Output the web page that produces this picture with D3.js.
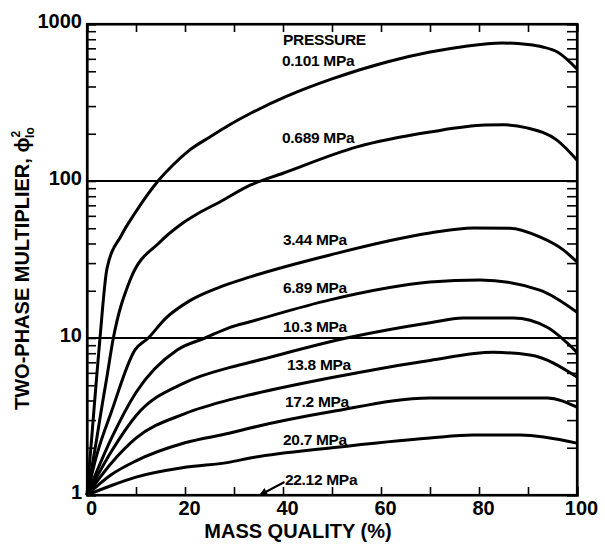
<!DOCTYPE html>
<html><head><meta charset="utf-8">
<script src="https://cdn.jsdelivr.net/npm/d3@7"></script>
<style>body{margin:0;background:#fff}svg{display:block}text{font-family:"Liberation Sans",Arial,sans-serif;font-weight:bold;fill:#000}</style>
</head><body>
<script>
// ---- data ----
const pressures = ["0.101 MPa","0.689 MPa","3.44 MPa","6.89 MPa","10.3 MPa","13.8 MPa","17.2 MPa","20.7 MPa"];
const x0101 = [0,1,2,2.65,4.1,7,9.8,14.5,17.5,21,25,29.2,33.3,40.8,50,61.2,70,77,84.7,90,93,96,100];
const v0101 = [1,2.4,5.8,10,27.9,45,62.5,100,126,158,190,229,269,347,447,573,663,720,757,740,714,663,517];
const x0689 = [0,1,2,3,4,5.3,8.8,14.9,19,23,27.1,33.3,40,55.1,70,81.2,85,89.8,95.9,100];
const v0689 = [1,1.5,2.3,3.6,5.5,9.7,23.4,40.9,52.5,63,73.5,94,112,165,205,227,228,218,182,136];
const x344 = [0,2,5,9.8,12.5,16,21,27.1,33.3,49.6,70,78.8,86.3,92.4,97.2,100];
const v344 = [1,1.8,3.4,8.4,10,13.3,17.3,21.1,24.5,33.8,46.6,50.2,50,44,36.4,30.5];
const x689 = [0,5,10,18.4,24.1,29.2,33.3,49.6,70,80.2,92.4,100];
const v689 = [1,2.3,4.5,8.4,10,11.7,12.7,17.5,22.7,23.4,20.2,14.6];
const x103 = [0,5,10,20,29.2,33.3,53.7,70,76.7,87,93.9,100];
const v103 = [1,1.9,3.2,5.2,6.5,7.0,10.1,12.5,13.4,13.4,11.7,8.1];
const x138 = [0,5,10,20,29.2,33.3,50,70,82.9,90.4,100];
const v138 = [1,1.6,2.3,3.3,4.05,4.35,5.6,7.2,8.1,7.8,5.65];
const x172 = [0,5,10,20,29.2,33.3,50,70,80,93.9,100];
const v172 = [1,1.35,1.65,2.15,2.48,2.67,3.4,4.15,4.15,4.15,3.63];
const x207 = [0,5,10,20,29.2,33.3,50,70,78.8,88.4,100];
const v207 = [1,1.15,1.3,1.5,1.62,1.72,2.0,2.31,2.41,2.41,2.14];
const seriesX = [x0101,x0689,x344,x689,x103,x138,x172,x207];
const seriesV = [v0101,v0689,v344,v689,v103,v138,v172,v207];
const labelX = [39.8,39.8,40,40,40,40.8,40.4,40];
const labelY = [540,175,39.1,19.4,10.9,6.25,3.64,2.08];
const criticalLabel = "22.12 MPa";
const criticalLabelPos = [40.4,1.158];
const arrowFrom = [40.3,1.21];
const arrowTo = [35.3,1.0];
const headingPos = [40,730];
const xTicks = [0,20,40,60,80,100];
const yTicks = [1,10,100,1000];

// ---- layout ----
const W=605,H=548;
const svg=d3.select("body").append("svg").attr("width",W).attr("height",H);
const x=d3.scaleLinear().domain([0,100]).range([87,577]);
const y=d3.scaleLog().domain([1,1000]).range([495,24]);

const minor=[];
for(let d=1;d<1000;d*=10) for(let k=1;k<10;k++) minor.push(d*k);
minor.push(1000);

// gridlines at 10 and 100
svg.append("g").selectAll("line").data([10,100]).join("line")
 .attr("x1",x(0)).attr("x2",x(100)).attr("y1",d=>y(d)).attr("y2",d=>y(d))
 .attr("stroke","#000").attr("stroke-width",2);

// axes
const gl=svg.append("g").attr("transform",`translate(${x(0)},0)`)
 .call(d3.axisLeft(y).tickValues(minor).tickSize(-9).tickPadding(5)
   .tickFormat(d=>yTicks.includes(d)?String(d):""));
const gr=svg.append("g").attr("transform",`translate(${x(100)},0)`)
 .call(d3.axisRight(y).tickValues(minor).tickSize(-10).tickFormat(""));
const gb=svg.append("g").attr("transform",`translate(0,${y(1)})`)
 .call(d3.axisBottom(x).tickValues(d3.range(0,101,10)).tickSize(-8).tickPadding(6)
   .tickFormat(d=>xTicks.includes(d)?String(d):""));
const gt=svg.append("g").attr("transform",`translate(0,${y(1000)})`)
 .call(d3.axisTop(x).tickValues(d3.range(10,100,10)).tickSize(-8).tickFormat(""));
[gl,gr,gb,gt].forEach(g=>{
  g.selectAll(".domain").attr("stroke","#000").attr("stroke-width",2.2);
  g.selectAll(".tick line").attr("stroke","#000").attr("stroke-width",1.6);
  g.selectAll("text").attr("font-size",20).attr("font-family",null).style("font-weight","bold");
});
gl.selectAll("text").attr("dy","0.18em");
gb.selectAll("text").attr("dx",4);
// frame
svg.append("rect").attr("x",x(0)).attr("y",y(1000)).attr("width",x(100)-x(0)).attr("height",y(1)-y(1000))
 .attr("fill","none").attr("stroke","#000").attr("stroke-width",2.2);

// curves
const line=d3.line().x(d=>x(d[0])).y(d=>y(d[1])).curve(d3.curveMonotoneX);
seriesX.forEach((xs,i)=>{
  svg.append("path").datum(xs.map((xv,j)=>[xv,seriesV[i][j]]))
   .attr("d",line).attr("fill","none").attr("stroke","#000").attr("stroke-width",3)
   .attr("stroke-linejoin","round");
});

// labels
svg.append("text").attr("x",x(headingPos[0])).attr("y",y(headingPos[1])).attr("font-size",15.5)
 .attr("letter-spacing",-0.3).text("PRESSURE");
pressures.forEach((p,i)=>{
  svg.append("text").attr("x",x(labelX[i])).attr("y",y(labelY[i])).attr("font-size",15.5)
   .attr("letter-spacing",-0.3).text(p);
});
svg.append("text").attr("x",x(criticalLabelPos[0])).attr("y",y(criticalLabelPos[1])).attr("font-size",15.5)
 .attr("letter-spacing",-0.3).text(criticalLabel);
// arrow for 22.12 MPa
svg.append("defs").append("marker").attr("id","ah").attr("viewBox","0 0 10 10").attr("refX",9).attr("refY",5)
 .attr("markerWidth",5).attr("markerHeight",4).attr("orient","auto")
 .append("path").attr("d","M0,0L10,5L0,10z").attr("fill","#000");
svg.append("line").attr("x1",x(arrowFrom[0])).attr("y1",y(arrowFrom[1])).attr("x2",x(arrowTo[0])).attr("y2",y(arrowTo[1]))
 .attr("stroke","#000").attr("stroke-width",2).attr("marker-end","url(#ah)");

// axis titles
svg.append("text").attr("x",298).attr("y",538).attr("text-anchor","middle").attr("font-size",20).text("MASS QUALITY (%)");
const yt=svg.append("text").attr("transform","translate(29,410) rotate(-90)").attr("font-size",20);
yt.append("tspan").text("TWO-PHASE MULTIPLIER, \u03D5");
yt.append("tspan").attr("font-size",12).attr("dy",-9).text("2");
yt.append("tspan").attr("font-size",12).attr("dx",-7).attr("dy",14).text("lo");
</script>
</body></html>
